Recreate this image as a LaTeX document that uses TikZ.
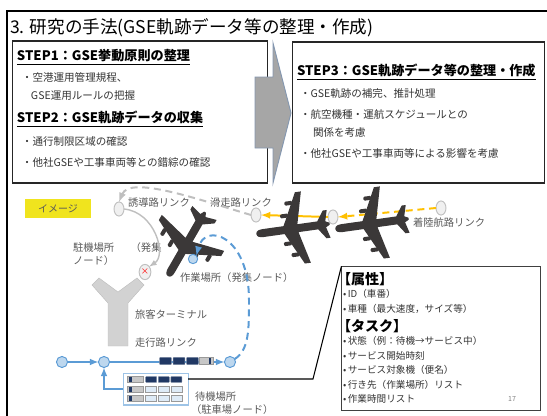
\documentclass[tikz,border=0pt]{standalone}
\usepackage{fontspec}
\setmainfont{Noto Sans CJK JP}
\usetikzlibrary{shapes,arrows}

\definecolor{planegray}{RGB}{59,56,56}
\definecolor{lblgray}{RGB}{89,89,89}
\definecolor{linkgray}{RGB}{191,191,191}
\definecolor{gseblue}{RGB}{91,155,213}
\definecolor{gselight}{RGB}{189,215,238}
\definecolor{parkblue}{RGB}{157,195,230}
\definecolor{slotblue}{RGB}{222,235,247}
\definecolor{navy}{RGB}{32,56,100}
\definecolor{apporange}{RGB}{255,192,0}
\definecolor{imgyellow}{RGB}{240,228,30}
\definecolor{arrowgray}{RGB}{166,166,166}
\definecolor{arrowedge}{RGB}{132,151,176}
\definecolor{termgray}{RGB}{210,210,210}

\begin{document}
\begin{tikzpicture}[x=0.03cm, y=-0.03cm, >=latex,
  every node/.style={inner sep=0pt, outer sep=0pt},
  titletext/.style={font=\fontsize{15}{18}\selectfont, anchor=west},
  stepbox/.style={draw=black!85, line width=1.5pt},
  stephead/.style={font=\fontsize{11.2}{14}\selectfont\bfseries, anchor=west},
  stepitem/.style={font=\fontsize{9}{11}\selectfont, text=black!80, anchor=west},
  lbl/.style={font=\fontsize{8.8}{11}\selectfont, text=lblgray, anchor=west},
  attrhead/.style={font=\fontsize{12}{14}\selectfont\bfseries, anchor=west},
  attr/.style={font=\fontsize{8.2}{10}\selectfont, text=black!80, anchor=west},
  linknode/.style={draw=linkgray, fill=black!6, line width=0.8pt, ellipse, minimum width=8.5pt, minimum height=12pt},
  roadnode/.style={draw=gseblue, fill=gselight, line width=0.8pt, circle, minimum size=9.5pt},
  gse/.style={draw=navy!60, fill=navy, rounded corners=0.5pt, line width=0.4pt, minimum width=10.2pt, minimum height=6pt},
  idle/.style={draw=black!40, fill=black!22, line width=0.4pt, minimum width=11.9pt, minimum height=6pt},
  slot/.style={draw=black!40, fill=slotblue, line width=0.4pt, minimum width=9.4pt, minimum height=4.8pt},
  taxi/.style={linkgray, line width=1.7pt, dash pattern=on 6pt off 4pt},
  landing/.style={apporange, line width=1.7pt},
  road/.style={gseblue, line width=1.5pt},
  workpath/.style={gseblue, line width=1.7pt, dash pattern=on 6pt off 4pt},
  plane/.pic={
    \fill[planegray] (-36,0) .. controls (-36,-3) and (-33,-4) .. (-29,-4) -- (-8,-4) -- (8,-36)
      -- (14,-36) -- (6,-4) -- (26,-4) -- (33,-14) -- (37,-14) -- (34,-3) -- (38,-1) -- (38,1)
      -- (34,3) -- (37,14) -- (33,14) -- (26,4) -- (6,4) -- (14,36) -- (8,36) -- (-8,4)
      -- (-29,4) .. controls (-33,4) and (-36,3) .. (-36,0) -- cycle;
    \foreach \y/\x in {14/-6, 26/0, -14/-6, -26/0}
      \fill[planegray, rounded corners=1pt] (\x-4,\y-2) rectangle (\x+4,\y+2);
  }]
  \useasboundingbox (0,0) rectangle (547,416);

  % Frame and title
  \draw[line width=1.7pt] (7,420) -- (7,11) -- (550,11);
  \node[titletext] (title) at (10,28) {3. 研究の手法(GSE軌跡データ等の整理・作成)};

  % Step boxes
  \node[stepbox, minimum width=217.7pt, minimum height=120.8pt] (box12) at (140,112) {};
  \node[stepbox, minimum width=215.2pt, minimum height=119.9pt] (box3) at (418.5,112.5) {};
  \draw[arrowedge, fill=arrowgray, line width=0.8pt] (255,77) -- (273,77) -- (273,43) -- (291,113)
    -- (273,183) -- (273,148) -- (255,148) -- cycle;

  \node[stephead] (step1) at (17,57) {\underline{STEP1：GSE挙動原則の整理}};
  \node[stepitem] (rule1) at (22,77) {・空港運用管理規程、};
  \node[stepitem] (rule2) at (31,96) {GSE運用ルールの把握};
  \node[stephead] (step2) at (17,119) {\underline{STEP2：GSE軌跡データの収集}};
  \node[stepitem] (area) at (22,142) {・通行制限区域の確認};
  \node[stepitem] (cross) at (22,162) {・他社GSEや工事車両等との錯綜の確認};

  \node[stephead] (step3) at (297,72) {\underline{STEP3：GSE軌跡データ等の整理・作成}};
  \node[stepitem] (fill) at (300,94) {・GSE軌跡の補完、推計処理};
  \node[stepitem] (sched1) at (300,114) {・航空機種・運航スケジュールとの};
  \node[stepitem] (sched2) at (313,133) {関係を考慮};
  \node[stepitem] (effect) at (300,153) {・他社GSEや工事車両等による影響を考慮};

  % Image part
  \node[fill=imgyellow, minimum width=56pt, minimum height=16pt, text=lblgray,
    font=\fontsize{8.5}{10}\selectfont] (image) at (58,208.5) {イメージ};

  % Terminal
  \filldraw[termgray, draw=black!25] (92,285) -- (99,278) -- (118,292) -- (137,278) -- (144,285)
    -- (128,303) -- (128,346) -- (108,346) -- (108,303) -- cycle;

  % Link nodes
  \node[linknode] (twy) at (119,209) {};
  \node[linknode] (rwy) at (256,215) {};
  \node[linknode] (appr1) at (333,217) {};
  \node[linknode] (appr2) at (441,208) {};
  \node[linknode, minimum width=10pt, minimum height=13pt] (stand) at (145,272)
    {\textcolor{red}{\fontsize{7}{7}\selectfont ×}};

  % Labels
  \node[lbl] (twylbl) at (128,203) {誘導路リンク};
  \node[lbl] (rwylbl) at (210,203) {滑走路リンク};
  \node[lbl] (apprlbl) at (413,223) {着陸航路リンク};
  \node[lbl, align=left] (standlbl) at (73,254) {駐機場所\hspace{14pt}（発集\\ノード）};
  \node[lbl] (worklbl) at (180,278) {作業場所（発集ノード）};
  \node[lbl] (termlbl) at (135,315) {旅客ターミナル};
  \node[lbl] (roadlbl) at (135,343) {走行路リンク};
  \node[lbl] (parklbl) at (195,397) {待機場所};
  \node[lbl] (parklbl2) at (191,410) {（駐車場ノード）};

  % Taxiway and landing links
  \draw[taxi, ->] (rwy.west) .. controls (200,200) and (130,175) .. (twy.north);
  \draw[linkgray, line width=1.2pt, ->] (twy.east) .. controls (155,212) and (167,255) .. (stand.north east);
  \draw[landing, ->] (appr1.west) -- (rwy.east);
  \draw[landing, dash pattern=on 6pt off 4pt, ->] (appr2.west) -- (appr1.east);

  % Aircraft
  \pic[rotate=60] at (186,245) {plane};
  \pic[rotate=8] at (292,229) {plane};
  \pic[rotate=8] at (371,224) {plane};

  % Service road
  \node[roadnode] (road1) at (62,362) {};
  \node[roadnode] (road2) at (104,362) {};
  \node[roadnode] (road3) at (230,362) {};
  \node[roadnode, minimum size=8pt] (work) at (193,259) {};
  \draw[road, ->] (road1) -- (road2);
  \draw[road, ->] (road2) -- (road3);
  \draw[workpath, ->] (road3) .. controls (249,350) and (249,330) .. (249,300)
    .. controls (249,235) and (205,222) .. (work.north east);

  \node[gse] (gse1) at (165.5,361) {};
  \node[gse] (gse2) at (179,361) {};
  \node[gse] (gse3) at (192.5,361) {};
  \node[idle, path picture={\fill[navy] ([xshift=-3.5pt]path picture bounding box.south east)
    rectangle ([xshift=-1.5pt]path picture bounding box.north east);}] (gse4) at (206,361) {};

  % Waiting area
  \node[draw=parkblue, line width=1pt, minimum width=55.3pt, minimum height=27pt] (park) at (155.8,389.2) {};
  \draw[road, ->] (park.west) -| (road2.south);
  \foreach \y [count=\r] in {379.5,389,398}
    \node[idle, minimum width=13.3pt, minimum height=4.8pt, path picture={\fill[navy]
      ([xshift=1.5pt]path picture bounding box.south west) rectangle
      ([xshift=3.5pt]path picture bounding box.north west);}] (idle\r) at (135.5,\y) {};
  \foreach \x [count=\c] in {151.2,163.8,176.4} {
    \node[gse, minimum width=9.4pt, minimum height=5pt] (busy\c) at (\x,379.5) {};
    \node[slot] (freeA\c) at (\x,389) {};
    \node[slot] (freeB\c) at (\x,398) {};
  }

  % Attributes and tasks
  \node[draw=black!75, line width=1.3pt, minimum width=170pt, minimum height=123.3pt] (attrbox) at (441,338.5) {};
  \coordinate (bend) at (313,379);
  \draw[black, line width=0.9pt] (park.east |- bend) -- (bend) -- (attrbox.north west);

  \node[attrhead] (prop) at (337,279) {【属性】};
  \node[attr] (id) at (343,294) {•\,ID（車番）};
  \node[attr] (type) at (343,309) {•\,車種（最大速度，サイズ等）};
  \node[attrhead] (task) at (337,326) {【タスク】};
  \node[attr] (state) at (343,341) {•\,状態（例：待機→サービス中）};
  \node[attr] (start) at (343,356) {•\,サービス開始時刻};
  \node[attr] (target) at (343,370) {•\,サービス対象機（便名）};
  \node[attr] (dest) at (343,385) {•\,行き先（作業場所）リスト};
  \node[attr] (worktime) at (343,399) {•\,作業時間リスト};
  \node[font=\fontsize{6}{7}\selectfont, text=black!50] (page) at (512,399) {17};
\end{tikzpicture}
\end{document}
